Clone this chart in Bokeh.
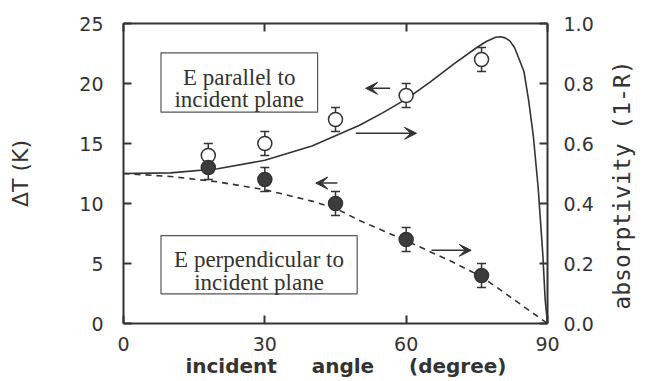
import math
from bokeh.plotting import figure
from bokeh.models import (Range1d, LinearAxis, FixedTicker, PrintfTickFormatter,
                          ColumnDataSource, Whisker, TeeHead, BoxAnnotation, Label,
                          Arrow, VeeHead)
from bokeh.embed import file_html
from bokeh.resources import INLINE

# ---------------- data ----------------
angle_meas = [18, 30, 45, 60, 76]
dT_parallel = [14, 15, 17, 19, 22]
dT_perpendicular = [13, 12, 10, 7, 4]
dT_error = [1, 1, 1, 1, 1]

# calculated absorptivity (1-R), right axis
angle_curve_par = [0, 10, 20, 30, 40, 50, 55, 60, 65, 70, 75, 77, 79, 80, 81, 82, 83,
                   84, 85, 86, 87, 88, 89, 89.5, 90]
absorp_par = [0.500, 0.502, 0.516, 0.544, 0.592, 0.660, 0.702, 0.748, 0.804, 0.864,
              0.920, 0.940, 0.954, 0.956, 0.952, 0.942, 0.920, 0.880, 0.840, 0.744,
              0.624, 0.456, 0.232, 0.080, 0.0]

angle_curve_perp = [0, 10, 20, 30, 40, 45, 50, 60, 70, 76, 80, 85, 90]
absorp_perp = [0.500, 0.490, 0.472, 0.446, 0.408, 0.384, 0.344, 0.276, 0.204, 0.156,
               0.112, 0.056, 0.0]

x_ticks = [0, 30, 60, 90]
y_left_ticks = [0, 5, 10, 15, 20, 25]
y_right_ticks = [0.0, 0.2, 0.4, 0.6, 0.8, 1.0]

INK = "#333333"
NB = "\u00a0"

# ---------------- figure ----------------
p = figure(width=650, height=380, output_backend="svg", toolbar_location=None,
           x_range=Range1d(0, 90), y_range=Range1d(0, 25),
           x_axis_type=None, y_axis_type=None,
           min_border_left=123, min_border_right=101, min_border_top=23,
           min_border_bottom=57)
p.extra_y_ranges = {"abs": Range1d(0, 1)}
p.grid.visible = False
p.outline_line_color = None
p.background_fill_color = "white"
p.border_fill_color = "white"


def style(ax):
    ax.axis_line_width = 2
    ax.axis_line_color = INK
    ax.major_tick_in = 8
    ax.major_tick_out = 0
    ax.major_tick_line_width = 2
    ax.major_tick_line_color = INK
    ax.minor_tick_line_color = None
    ax.major_label_text_font = "DejaVu Sans"
    ax.major_label_text_font_size = "19px"
    ax.major_label_text_color = INK
    ax.axis_label_text_color = INK
    ax.axis_label_text_font_style = "normal"


bottom = LinearAxis(ticker=FixedTicker(ticks=x_ticks))
style(bottom)
bottom.major_label_standoff = 13
bottom.axis_label = NB * 3 + "incident" + NB * 5 + "angle" + NB * 5 + "(degree)"
bottom.axis_label_text_font = "DejaVu Sans"
bottom.axis_label_text_font_style = "bold"
bottom.axis_label_text_font_size = "20px"
bottom.axis_label_standoff = 0
p.add_layout(bottom, "below")

top = LinearAxis(ticker=FixedTicker(ticks=x_ticks),
                 major_label_overrides={t: "" for t in x_ticks})
style(top)
top.major_label_standoff = 0
p.add_layout(top, "above")

left = LinearAxis(ticker=FixedTicker(ticks=y_left_ticks))
style(left)
left.major_label_standoff = 20
left.axis_label = "ΔT (K)"
left.axis_label_text_font = "DejaVu Sans"
left.axis_label_text_font_size = "22px"
left.axis_label_standoff = 43
p.add_layout(left, "left")

right = LinearAxis(y_range_name="abs", ticker=FixedTicker(ticks=y_right_ticks),
                   formatter=PrintfTickFormatter(format="%.1f"))
style(right)
right.major_label_standoff = 16
right.axis_label = NB + "absorptivity (1-R)"
right.axis_label_text_font = "DejaVu Sans Mono"
right.axis_label_text_font_size = "23px"
right.axis_label_standoff = 25
right.axis_label_orientation = math.pi / 2
try:
    right.axis_label_align = "start"
except Exception:
    pass
p.add_layout(right, "right")

# ---------------- curves ----------------
p.line(angle_curve_par, absorp_par, y_range_name="abs", line_color=INK, line_width=1.6)
p.line(angle_curve_perp, absorp_perp, y_range_name="abs", line_color=INK,
       line_width=1.6, line_dash="6 5")

# ---------------- measured points with error bars ----------------
src_par = ColumnDataSource(dict(
    x=angle_meas, y=dT_parallel,
    upper=[v + e for v, e in zip(dT_parallel, dT_error)],
    lower=[v - e for v, e in zip(dT_parallel, dT_error)]))
src_perp = ColumnDataSource(dict(
    x=angle_meas, y=dT_perpendicular,
    upper=[v + e for v, e in zip(dT_perpendicular, dT_error)],
    lower=[v - e for v, e in zip(dT_perpendicular, dT_error)]))

for src in (src_par, src_perp):
    w = Whisker(source=src, base="x", upper="upper", lower="lower", dimension="height",
                line_color=INK, line_width=1.5, level="underlay",
                upper_head=TeeHead(size=9, line_color=INK, line_width=1.5),
                lower_head=TeeHead(size=9, line_color=INK, line_width=1.5))
    p.add_layout(w)

p.scatter("x", "y", source=src_par, size=14, fill_color="white", line_color=INK,
          line_width=1.5)
p.scatter("x", "y", source=src_perp, size=14, fill_color="#3c3c3c", line_color=INK,
          line_width=1.5)

# ---------------- arrows ----------------
arrows = [((56.6, 19.6), (51.4, 19.6)),
          ((49.3, 15.85), (62.2, 15.85)),
          ((45.4, 11.7), (40.8, 11.7)),
          ((65.4, 6.1), (73.8, 6.1))]
for (x0, y0), (x1, y1) in arrows:
    p.add_layout(Arrow(x_start=x0, y_start=y0, x_end=x1, y_end=y1,
                       line_color=INK, line_width=1.5,
                       end=VeeHead(size=12, fill_color=INK, line_color=INK, line_width=1)))

# ---------------- boxed captions ----------------
p.add_layout(BoxAnnotation(left=7.96, right=41.2, bottom=17.61, top=22.56,
                           fill_color=None, line_color="#555555", line_width=1.2,
                           line_alpha=1))
p.add_layout(BoxAnnotation(left=7.96, right=49.6, bottom=2.47, top=7.33,
                           fill_color=None, line_color="#555555", line_width=1.2,
                           line_alpha=1))

caption_lines = [(24.56, 20.5, "E parallel to"),
                 (24.56, 18.64, "incident plane"),
                 (28.77, 5.3, "E perpendicular to"),
                 (28.77, 3.44, "incident plane")]
for cx, cy, t in caption_lines:
    p.add_layout(Label(x=cx, y=cy, text=t, text_align="center",
                       text_baseline="alphabetic", text_font="Liberation Serif",
                       text_font_size="23px", text_color=INK))

open("out.html", "w").write(file_html(p, INLINE))
